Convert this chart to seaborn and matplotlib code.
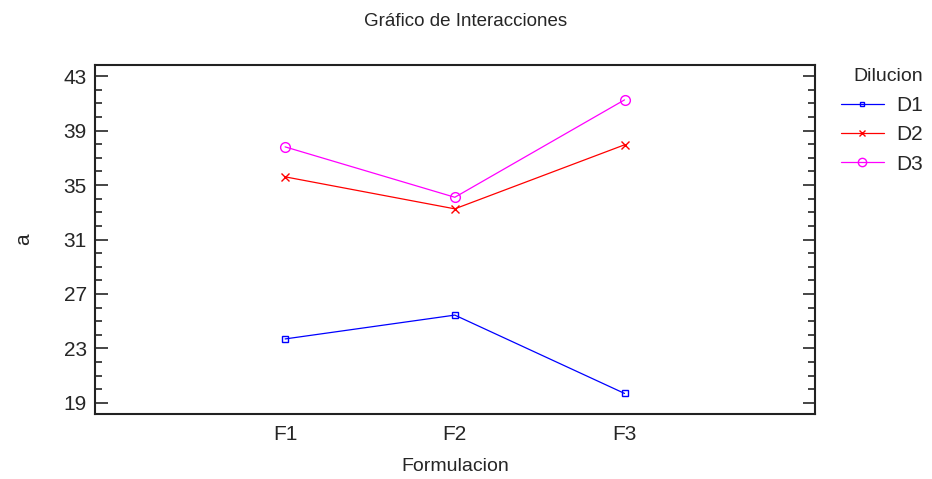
import pandas as pd
import seaborn as sns
import matplotlib.pyplot as plt
from matplotlib.ticker import MultipleLocator

# values
formulaciones = ["F1", "F2", "F3"]
diluciones = ["D1", "D2", "D3"]
d1 = [23.7, 25.45, 19.7]
d2 = [35.6, 33.25, 37.95]
d3 = [37.8, 34.1, 41.25]

colors = {"D1": "#0000ff", "D2": "#ff0000", "D3": "#ff00ff"}
markers = {"D1": "s", "D2": "x", "D3": "o"}
msizes = {"D1": 4, "D2": 6, "D3": 7}

rows = []
for dil, vals in zip(diluciones, [d1, d2, d3]):
    for f, v in zip(formulaciones, vals):
        rows.append({"Formulacion": f, "a": v, "Dilucion": dil})
df = pd.DataFrame(rows)

sns.set_style("white")
plt.rcParams['font.family'] = ['Liberation Sans', 'DejaVu Sans']

fig = plt.figure(figsize=(9.32, 4.79), dpi=100)
ax = fig.add_axes([0.102, 0.136, 0.772, 0.728])

sns.lineplot(data=df, x="Formulacion", y="a", hue="Dilucion",
             palette=colors, linewidth=0.9, ax=ax, legend=False)

# seaborn won't mix filled and line markers, so set them per line
for line, dil in zip(ax.lines, diluciones):
    line.set_marker(markers[dil])
    line.set_markerfacecolor("none")
    line.set_markeredgecolor(colors[dil])
    line.set_markeredgewidth(1.0)
    line.set_markersize(msizes[dil])

ax.set_xlim(-1.12, 3.12)
ax.set_ylim(18.2, 43.8)
ax.yaxis.set_major_locator(MultipleLocator(4, offset=3))
ax.yaxis.set_minor_locator(MultipleLocator(1))
ax.tick_params(axis="y", which="major", direction="in", length=9, width=1.2,
               left=True, right=True, labelsize=15, pad=6)
ax.tick_params(axis="y", which="minor", direction="in", length=5, width=1.2,
               left=True, right=True)
ax.tick_params(axis="x", length=0, labelsize=15, pad=8)

for sp in ax.spines.values():
    sp.set_color("#222222")
    sp.set_linewidth(1.5)

ax.set_xlabel("Formulacion", fontsize=14, labelpad=10)
ax.set_ylabel("a", fontsize=15, labelpad=22)
fig.suptitle("Gráfico de Interacciones", fontsize=13.5, y=0.972)

handles = []
for dil in diluciones:
    h, = ax.plot([], [], color=colors[dil], marker=markers[dil], mfc="none",
                 ms=msizes[dil] - 1, lw=0.9)
    handles.append(h)
leg = fig.legend(handles, diluciones, title="Dilucion", loc="upper left",
                 bbox_to_anchor=(841 / 932, 0.857), frameon=False, fontsize=15,
                 title_fontsize=14, handlelength=2.05, labelspacing=0.5,
                 handletextpad=0.6, borderpad=0, borderaxespad=0,
                 alignment="right")

fig.savefig("out.png", dpi=100)
